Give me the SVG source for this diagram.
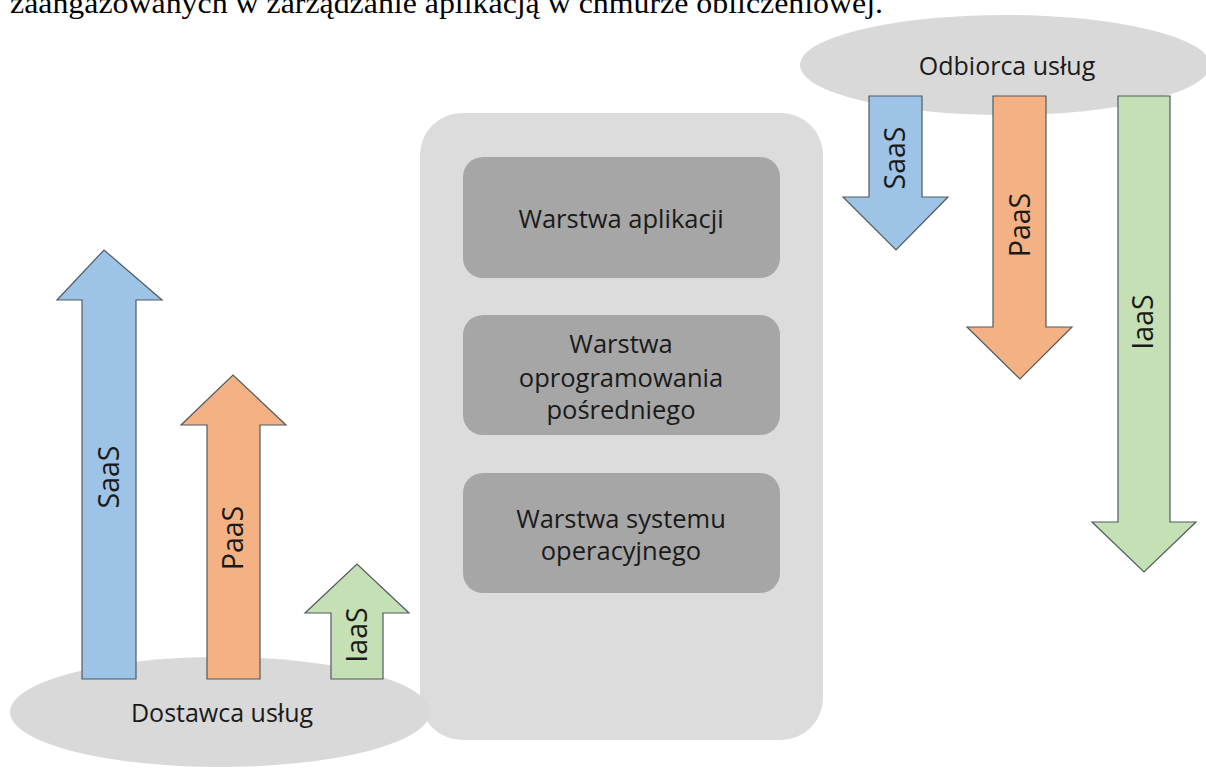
<svg xmlns="http://www.w3.org/2000/svg" width="1206" height="769" viewBox="0 0 1206 769">
<style>
.lbl{font-family:"Open Sans","Noto Sans",sans-serif;fill:#1a1a1a;text-anchor:middle}
.ar{stroke:#4f5b62;stroke-width:1.2;stroke-linejoin:miter}
.blue{fill:#9dc3e6}.orange{fill:#f4b183}.green{fill:#c5e0b4}
.ell{fill:#d9d9d9}
.inner{fill:#a6a6a6}
</style>
<rect width="1206" height="769" fill="#ffffff"/>
<text x="10" y="13" font-family="Liberation Serif,serif" font-size="29" fill="#000" textLength="873" lengthAdjust="spacingAndGlyphs">zaangażowanych w zarządzanie aplikacją w chmurze obliczeniowej.</text>

<g id="warstwy">
<rect x="420" y="113" width="403" height="627" rx="42" fill="#dcdcdc"/>
<g id="w-aplikacji">
<rect class="inner" x="463" y="157" width="317" height="121" rx="20"/>
<text class="lbl" x="621" y="228" font-size="25.5">Warstwa aplikacji</text>
</g>
<g id="w-posredniego">
<rect class="inner" x="463" y="315" width="317" height="120" rx="20"/>
<text class="lbl" x="621" y="353" font-size="25.5">Warstwa</text>
<text class="lbl" x="621" y="387" font-size="25.5">oprogramowania</text>
<text class="lbl" x="621" y="419" font-size="25.5">pośredniego</text>
</g>
<g id="w-systemu">
<rect class="inner" x="463" y="473" width="317" height="120" rx="20"/>
<text class="lbl" x="621" y="528" font-size="25.5">Warstwa systemu</text>
<text class="lbl" x="621" y="560" font-size="25.5">operacyjnego</text>
</g>
</g>

<g id="dostawca">
<ellipse class="ell" cx="220" cy="712" rx="210" ry="55"/>
<text class="lbl" x="222" y="722" font-size="25">Dostawca usług</text>
</g>
<g id="odbiorca">
<ellipse class="ell" cx="1005" cy="65" rx="205" ry="50"/>
<text class="lbl" x="1007" y="75" font-size="25">Odbiorca usług</text>
</g>

<g id="connectors">
<g id="up-saas">
<polygon class="ar blue" points="82,679 82,300 57,300 104,250 162,300 136,300 136,679"/>
<text class="lbl" font-size="28.5" transform="translate(119,477) rotate(-90)">SaaS</text>
</g>
<g id="up-paas">
<polygon class="ar orange" points="207,679 207,425 181,425 233,375 286,425 260,425 260,679"/>
<text class="lbl" font-size="28.5" transform="translate(243,538) rotate(-90)">PaaS</text>
</g>
<g id="up-iaas">
<polygon class="ar green" points="331,679 331,613 305,613 357,564 409,613 383,613 383,679"/>
<text class="lbl" font-size="28.5" transform="translate(367,635) rotate(-90)">IaaS</text>
</g>
<g id="down-saas">
<polygon class="ar blue" points="869,96 869,197 843,197 896,250 948,197 922,197 922,96"/>
<text class="lbl" font-size="28.5" transform="translate(905,158) rotate(-90)">SaaS</text>
</g>
<g id="down-paas">
<polygon class="ar orange" points="993,96 993,327 967,327 1020,379 1072,327 1046,327 1046,96"/>
<text class="lbl" font-size="28.5" transform="translate(1030,225) rotate(-90)">PaaS</text>
</g>
<g id="down-iaas">
<polygon class="ar green" points="1118,96 1118,522 1092,522 1144,572 1196,522 1170,522 1170,96"/>
<text class="lbl" font-size="28.5" transform="translate(1153,322) rotate(-90)">IaaS</text>
</g>
</g>
</svg>
